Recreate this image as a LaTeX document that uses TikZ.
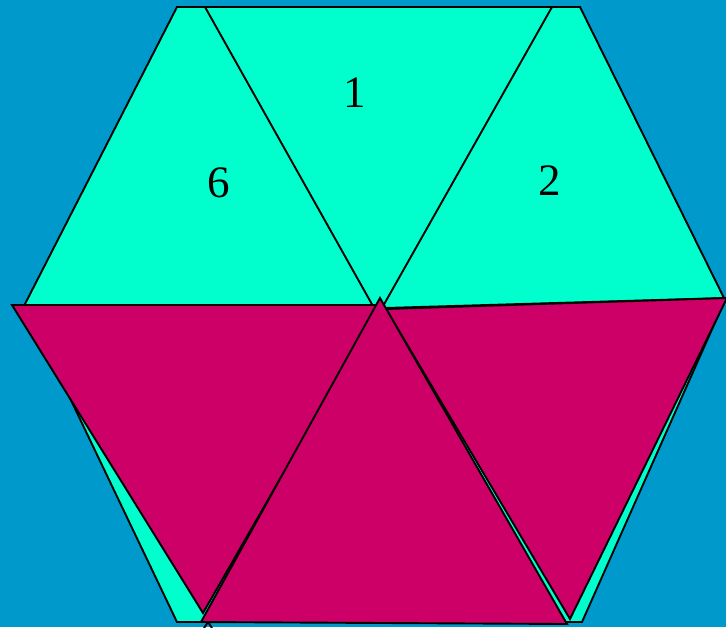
\documentclass[tikz,border=0pt]{standalone}
\usepackage{fontspec}
\setmainfont{Liberation Serif}
\definecolor{bgblue}{HTML}{0099CC}
\definecolor{tcyan}{HTML}{00FFCC}
\definecolor{tmag}{HTML}{CC0066}
\begin{document}
\begin{tikzpicture}[x=1pt,y=-1pt,
  edge/.style={draw=black,line width=1.9pt,line join=miter},
  cyantri/.style={edge,fill=tcyan},
  magtri/.style={edge,fill=tmag},
  lbl/.style={font=\fontsize{45}{48}\selectfont,text=black,inner sep=0pt}]
\fill[bgblue] (0,0) rectangle (726,627);
\useasboundingbox (0,0) rectangle (726,627);
% cyan hexagon
\coordinate (h1) at (177,7);
\coordinate (h2) at (580,7);
\coordinate (h3) at (725,300);
\coordinate (h4) at (582,622);
\coordinate (h5) at (177,622);
\coordinate (h6) at (25,304);
\path[cyantri] (h1) -- (h2) -- (h3) -- (h4) -- (h5) -- (h6) -- cycle;
% triangle 1 edges
\coordinate (t1a) at (205,7);
\coordinate (t1b) at (552,7);
\coordinate (t1c) at (378,315);
\draw[edge] (t1a) -- (t1c) -- (t1b);
% triangle 2 lower corner
\coordinate (t2a) at (385,308);
\coordinate (t2b) at (726,298);
\draw[edge] (t2a) -- (t2b);
% small mark at bottom
\coordinate (m1) at (204,628);
\coordinate (m2) at (208,622);
\coordinate (m3) at (212,628);
\draw[edge] (m1) -- (m2) -- (m3);
% magenta triangles
\coordinate (ml1) at (12,305);
\coordinate (ml2) at (380,305);
\coordinate (ml3) at (203,613);
\path[magtri] (ml1) -- (ml2) -- (ml3) -- cycle;
\coordinate (mr1) at (386,309);
\coordinate (mr2) at (727,298);
\coordinate (mr3) at (570,619);
\path[magtri] (mr1) -- (mr2) -- (mr3) -- cycle;
\coordinate (mc1) at (380,298);
\coordinate (mc2) at (567,624);
\coordinate (mc3) at (201,622);
\path[magtri] (mc1) -- (mc2) -- (mc3) -- cycle;
% labels
\node[lbl] (n1) at (355,93) {1};
\node[lbl] (n6) at (219,183) {6};
\node[lbl] (n2) at (550,181) {2};
\end{tikzpicture}
\end{document}
